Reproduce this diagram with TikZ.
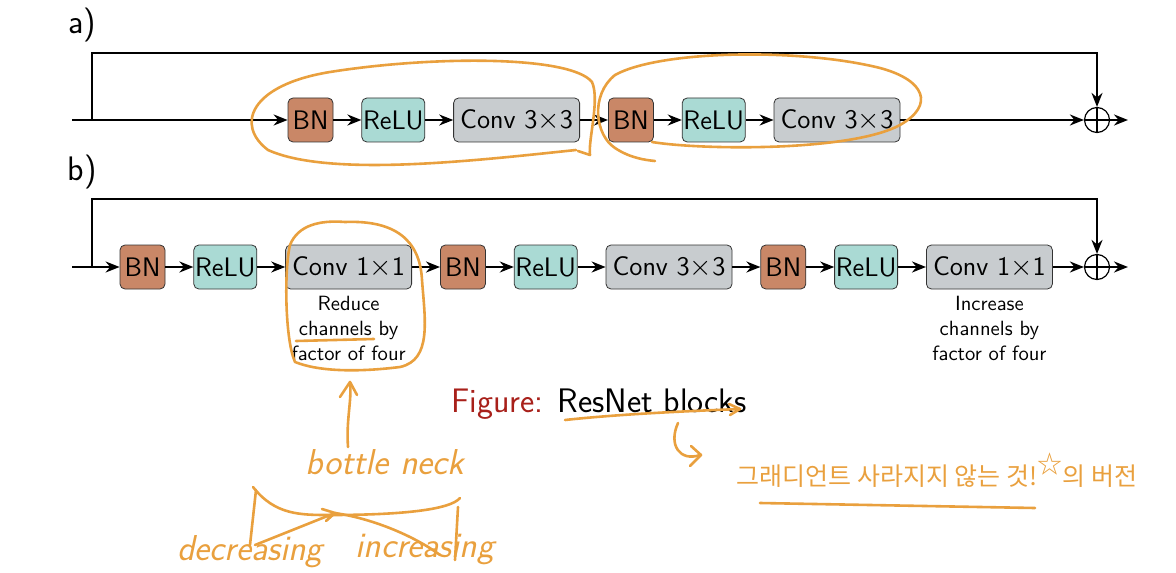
\documentclass[tikz,border=0pt]{standalone}
\usepackage{fontspec}
\newfontfamily\cjk{Noto Sans CJK KR}
\usepackage{xcolor}
\usepackage{tikz}
\usetikzlibrary{positioning,arrows.meta}

\definecolor{bncol}{HTML}{C98767}
\definecolor{relucol}{HTML}{AADAD4}
\definecolor{convcol}{HTML}{C8CCCF}
\definecolor{penorange}{HTML}{E9A03E}
\definecolor{capred}{HTML}{A8201A}

\tikzset{
  blk/.style={draw=black!80,rounded corners=2.5pt,minimum height=22pt,inner xsep=0pt,inner ysep=0.3pt,font=\fontsize{13.4}{16}\selectfont\sffamily},
  bn/.style={blk,fill=bncol,minimum width=22.5pt},
  relu/.style={blk,fill=relucol,minimum width=31.5pt},
  conv/.style={blk,fill=convcol,minimum width=63pt},
  sum/.style={draw,circle,minimum size=12.5pt,inner sep=0pt,line width=0.6pt},
  flow/.style={-{Stealth[length=7pt,width=5.5pt]},line width=1pt},
  note/.style={align=center,font=\fontsize{10.3}{12.5}\selectfont\sffamily},
  scribble/.style={draw=penorange,line width=1.3pt,line cap=round,line join=round},
  hand/.style={text=penorange,font=\fontsize{18}{20}\selectfont\sffamily\slshape},
}

\begin{document}
\begin{tikzpicture}[x=0.5pt,y=-0.5pt,node distance=14pt]
  \useasboundingbox (0,0) rectangle (1176,572);

  % a) plain block
  \node[font=\fontsize{17}{20}\selectfont\sffamily] (laba) at (82,25) {a)};
  \coordinate (ina) at (72,120);
  \coordinate (splita) at (92,120);
  \node[bn] (bna1) at (310.5,120) {BN};
  \node[relu,right=of bna1] (relua1) {ReLU};
  \node[conv,right=of relua1] (conva1) {Conv 3$\times$3};
  \node[bn,right=of conva1] (bna2) {BN};
  \node[relu,right=of bna2] (relua2) {ReLU};
  \node[conv,right=of relua2] (conva2) {Conv 3$\times$3};
  \node[sum] (suma) at (1097,120) {};
  \coordinate (outa) at (1128,120);
  \draw[line width=0.6pt] (suma.north) -- (suma.south) (suma.west) -- (suma.east);
  \draw[flow] (ina) -- (bna1);
  \draw[flow] (bna1) -- (relua1);
  \draw[flow] (relua1) -- (conva1);
  \draw[flow] (conva1) -- (bna2);
  \draw[flow] (bna2) -- (relua2);
  \draw[flow] (relua2) -- (conva2);
  \draw[flow] (conva2) -- (suma);
  \draw[flow] (suma) -- (outa);
  \draw[flow] (splita) -- ++(0,-67) -| (suma.north);

  % b) bottleneck block
  \node[font=\fontsize{17}{20}\selectfont\sffamily] (labb) at (82,172) {b)};
  \coordinate (inb) at (72,267);
  \coordinate (splitb) at (92,267);
  \node[bn] (bnb1) at (142.5,267) {BN};
  \node[relu,right=of bnb1] (relub1) {ReLU};
  \node[conv,right=of relub1] (convb1) {Conv 1$\times$1};
  \node[bn,right=of convb1] (bnb2) {BN};
  \node[relu,right=of bnb2] (relub2) {ReLU};
  \node[conv,right=of relub2] (convb2) {Conv 3$\times$3};
  \node[bn,right=of convb2] (bnb3) {BN};
  \node[relu,right=of bnb3] (relub3) {ReLU};
  \node[conv,right=of relub3] (convb3) {Conv 1$\times$1};
  \node[sum] (sumb) at (1097,267) {};
  \coordinate (outb) at (1128,267);
  \draw[line width=0.6pt] (sumb.north) -- (sumb.south) (sumb.west) -- (sumb.east);
  \draw[flow] (inb) -- (bnb1);
  \draw[flow] (bnb1) -- (relub1);
  \draw[flow] (relub1) -- (convb1);
  \draw[flow] (convb1) -- (bnb2);
  \draw[flow] (bnb2) -- (relub2);
  \draw[flow] (relub2) -- (convb2);
  \draw[flow] (convb2) -- (bnb3);
  \draw[flow] (bnb3) -- (relub3);
  \draw[flow] (relub3) -- (convb3);
  \draw[flow] (convb3) -- (sumb);
  \draw[flow] (sumb) -- (outb);
  \draw[flow] (splitb) -- ++(0,-68) -| (sumb.north);
  \node[note,below=0pt of convb1] (reduce) {Reduce\\channels by\\factor of four};
  \node[note,below=0pt of convb3] (increase) {Increase\\channels by\\factor of four};

  \node[font=\fontsize{17}{20}\selectfont\sffamily] (cap) at (599,404) {\textcolor{capred}{Figure:} ResNet blocks};

  % pen notes on top
  \draw[scribble] (576,150) .. controls (480,160) and (330,178) .. (268,150)
    .. controls (235,125) and (250,85) .. (330,72)
    .. controls (430,56) and (570,55) .. (592,82)
    .. controls (600,100) and (588,140) .. (590,155)
    -- (578,151);
  \draw[scribble] (652,142) .. controls (700,150) and (850,152) .. (900,125)
    .. controls (935,105) and (925,80) .. (880,68)
    .. controls (800,48) and (660,50) .. (615,75)
    .. controls (590,95) and (595,135) .. (615,148)
    .. controls (630,158) and (645,160) .. (655,161);
  \draw[scribble] (345,222) .. controls (395,220) and (420,240) .. (422,280)
    .. controls (425,320) and (432,360) .. (400,367)
    .. controls (360,372) and (320,372) .. (295,362)
    .. controls (285,340) and (284,270) .. (290,245)
    .. controls (298,225) and (320,220) .. (345,222);
  \draw[scribble] (296,341) -- (374,339);
  \draw[scribble] (348,447) .. controls (346,420) and (352,400) .. (350,383);
  \draw[scribble] (340,397) -- (350,382) -- (357,395);
  \node[hand] (neck) at (385,462) {bottle neck};
  \draw[scribble] (253,487) .. controls (275,515) and (300,515) .. (330,515)
    .. controls (400,515) and (450,510) .. (460,498);
  \draw[scribble] (256,490) -- (250,545);
  \draw[scribble] (458,507) -- (455,560);
  \draw[scribble] (255,545) -- (335,513) (322,509) -- (335,513) -- (326,521);
  \draw[scribble] (335,513) .. controls (380,520) and (420,540) .. (440,555);
  \node[hand] (decr) at (250,552) {decreasing};
  \node[hand] (incr) at (425,550) {increasing};
  \draw[scribble] (565,420) .. controls (620,414) and (690,411) .. (740,409);
  \draw[scribble] (729,404) -- (740,409) -- (730,415);
  \draw[scribble] (678,423) .. controls (668,445) and (680,462) .. (700,455);
  \draw[scribble] (691,446) -- (701,455) -- (690,466);
  \node[text=penorange,font=\cjk\fontsize{12.5}{15}\selectfont] (kor) at (937,470)
    {그래디언트 사라지지 않는 것!\raisebox{6pt}{☆}의 버전};
  \draw[scribble] (760,503) -- (1035,508);
\end{tikzpicture}
\end{document}
